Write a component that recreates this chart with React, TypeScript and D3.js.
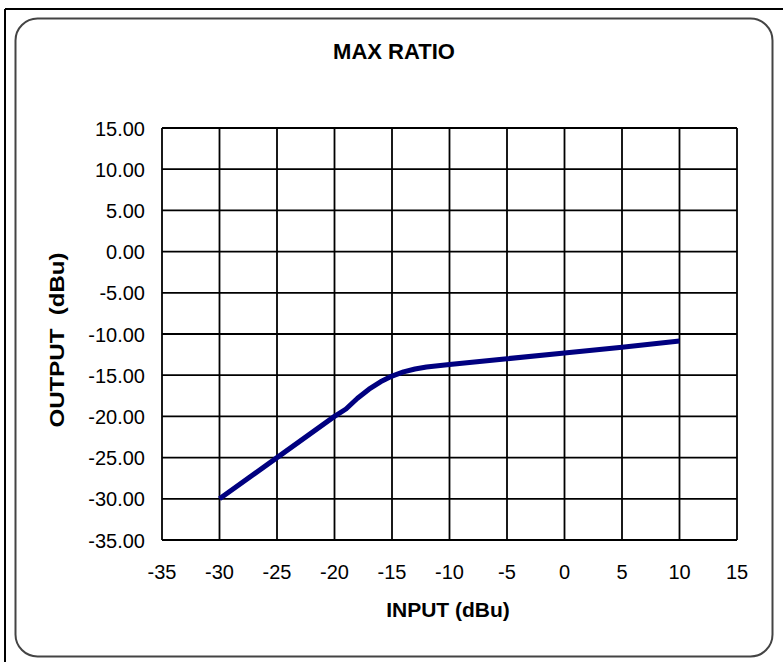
import React from "react";
import * as d3 from "d3";

const inputDbu = [-30, -25, -20, -19, -18, -17, -16, -15, -14, -13, -12, -10, -5, 0, 5, 10];
const outputDbu = [-30, -25, -20, -19.1, -17.8, -16.7, -15.8, -15.1, -14.6, -14.25, -14.0, -13.7, -13.0, -12.3, -11.6, -10.85];
const xTicks = [-35, -30, -25, -20, -15, -10, -5, 0, 5, 10, 15];
const yTicks = [15, 10, 5, 0, -5, -10, -15, -20, -25, -30, -35];
const chartTitle = "MAX RATIO";
const xTitle = "INPUT (dBu)";
const yTitle = "OUTPUT  (dBu)";

const W = 783;
const H = 662;
const plot = { left: 162, right: 737, top: 128, bottom: 540 };
const font = "Arial, 'Liberation Sans', sans-serif";

export default function App() {
  const x = d3.scaleLinear().domain([-35, 15]).range([plot.left, plot.right]);
  const y = d3.scaleLinear().domain([-35, 15]).range([plot.bottom, plot.top]);
  const pts: [number, number][] = inputDbu.map((v, i) => [v, outputDbu[i]]);
  const line = d3
    .line<[number, number]>()
    .x((d) => x(d[0]))
    .y((d) => y(d[1]));

  return (
    <svg
      width={W}
      height={H}
      style={{ position: "absolute", left: 0, top: 0, background: "#fff" }}
      fontFamily={font}
    >
      <rect x={0} y={0} width={W} height={H} fill="#fff" />
      {/* outer frame */}
      <line x1={5} y1={9} x2={W} y2={9} stroke="#000" strokeWidth={2} />
      <line x1={5} y1={9} x2={5} y2={H} stroke="#000" strokeWidth={2} />
      {/* inner rounded frame */}
      <rect x={15.5} y={18.5} width={757} height={638} rx={22} ry={22} fill="#fff" stroke="#444" strokeWidth={2} />

      {/* grid */}
      {xTicks.map((t) => (
        <line key={"gx" + t} x1={x(t)} x2={x(t)} y1={plot.top} y2={plot.bottom} stroke="#000" strokeWidth={1.8} />
      ))}
      {yTicks.map((t) => (
        <line key={"gy" + t} x1={plot.left} x2={plot.right} y1={y(t)} y2={y(t)} stroke="#000" strokeWidth={1.8} />
      ))}

      {/* tick labels */}
      {yTicks.map((t) => (
        <text key={"ly" + t} x={145} y={y(t) + 7.5} textAnchor="end" fontSize={20} fill="#000">
          {t.toFixed(2)}
        </text>
      ))}
      {xTicks.map((t) => (
        <text key={"lx" + t} x={x(t)} y={579} textAnchor="middle" fontSize={20} fill="#000">
          {t}
        </text>
      ))}

      {/* data line */}
      <path d={line(pts) || ""} fill="none" stroke="#000080" strokeWidth={5} strokeLinejoin="round" />

      {/* titles */}
      <text x={394} y={59} textAnchor="middle" fontSize={22} fontWeight="bold" fill="#000">
        {chartTitle}
      </text>
      <text x={448} y={617} textAnchor="middle" fontSize={21} fontWeight="bold" fill="#000">
        {xTitle}
      </text>
      <text
        transform={`translate(64,340) rotate(-90)`}
        textAnchor="middle"
        fontSize={21}
        fontWeight="bold"
        fill="#000"
        style={{ whiteSpace: "pre" }}
        textLength={175}
        lengthAdjust="spacingAndGlyphs"
      >
        {yTitle}
      </text>
    </svg>
  );
}
